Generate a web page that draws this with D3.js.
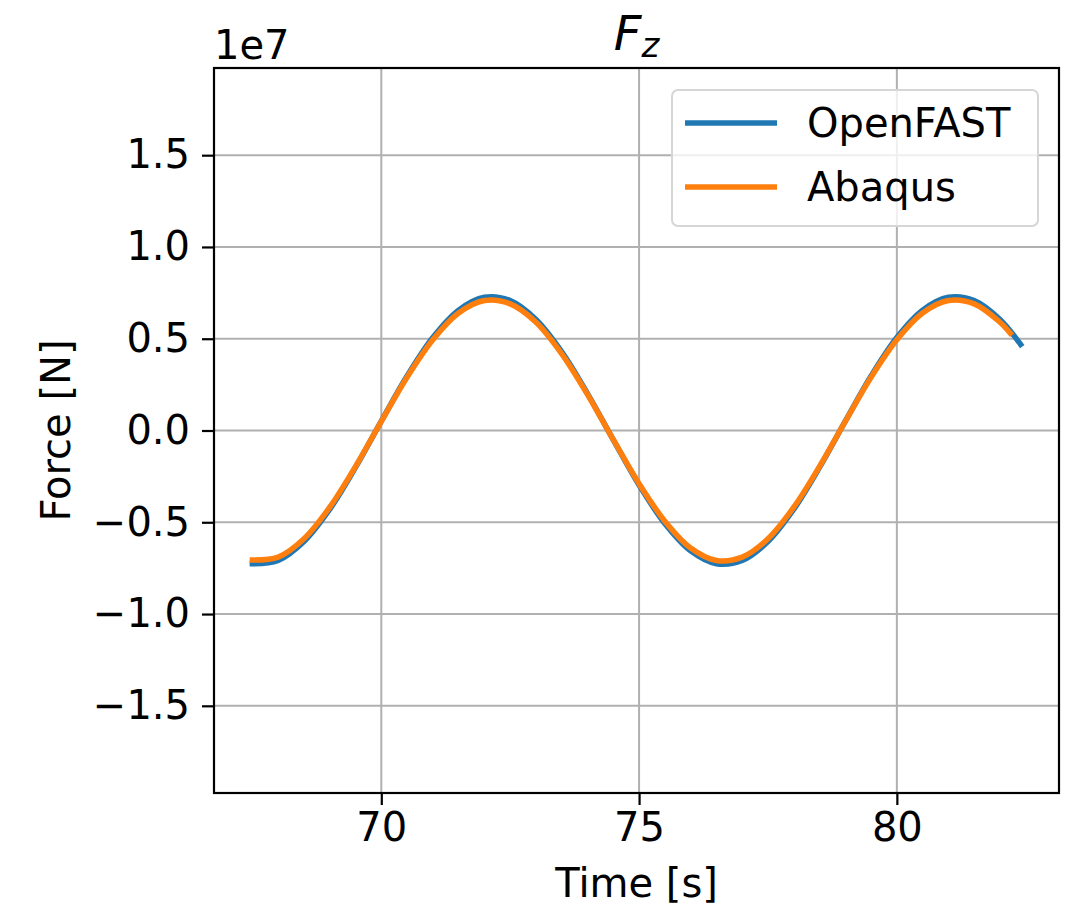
<!DOCTYPE html>
<html>
<head>
<meta charset="utf-8">
<script src="https://cdn.jsdelivr.net/npm/d3@7"></script>
<style>
    body { margin: 0; background: #fff; }
    text { font-family: 'DejaVu Sans', sans-serif; fill: #000; }
</style>
</head>
<body>
<div id="chart"></div>
<script>
// time [s] and force [N]
const timeOpenFAST = [67.5, 68.0, 68.5, 69.0, 69.5, 70.0, 70.5, 71.0, 71.5, 72.0, 72.5, 73.0, 73.5, 74.0, 74.5,
    75.0, 75.5, 76.0, 76.5, 77.0, 77.5, 78.0, 78.5, 79.0, 79.5, 80.0, 80.5, 81.0, 81.5, 82.0, 82.4];
const forceOpenFAST = [-0.726e7, -0.708e7, -0.605e7, -0.429e7, -0.201e7, 0.051e7, 0.297e7, 0.507e7, 0.656e7, 0.726e7,
    0.708e7, 0.605e7, 0.429e7, 0.201e7, -0.051e7, -0.297e7, -0.507e7, -0.656e7, -0.726e7, -0.708e7, -0.605e7,
    -0.429e7, -0.201e7, 0.051e7, 0.297e7, 0.507e7, 0.656e7, 0.726e7, 0.708e7, 0.605e7, 0.469e7];

const timeAbaqus = [67.5, 68.0, 68.5, 69.0, 69.5, 70.0, 70.5, 71.0, 71.5, 72.0, 72.5, 73.0, 73.5, 74.0, 74.5,
    75.0, 75.5, 76.0, 76.5, 77.0, 77.5, 78.0, 78.5, 79.0, 79.5, 80.0, 80.5, 81.0, 81.5, 82.0, 82.2];
const forceAbaqus = [-0.706e7, -0.690e7, -0.590e7, -0.418e7, -0.196e7, 0.050e7, 0.290e7, 0.494e7, 0.640e7, 0.708e7,
    0.690e7, 0.590e7, 0.418e7, 0.196e7, -0.050e7, -0.290e7, -0.494e7, -0.640e7, -0.708e7, -0.690e7, -0.590e7,
    -0.418e7, -0.196e7, 0.050e7, 0.290e7, 0.494e7, 0.640e7, 0.708e7, 0.690e7, 0.590e7, 0.530e7];

const xTicks = [70, 75, 80];
const yTicks = [-1.5e7, -1.0e7, -0.5e7, 0, 0.5e7, 1.0e7, 1.5e7];
const yLimit = 1.975e7;

const seriesNames = ['OpenFAST', 'Abaqus'];
const seriesColors = ['#1f77b4', '#ff7f0e'];

class LinePlot {
    constructor(_config, _data) {
        this.config = {
            parentElement: _config.parentElement,
            containerWidth: _config.containerWidth || 1072,
            containerHeight: _config.containerHeight || 910,
            margin: _config.margin || {top: 68, right: 13, bottom: 117, left: 214}
        };
        this.data = _data;
        this.initVis();
    }

    initVis() {
        let vis = this;

        vis.width = vis.config.containerWidth - vis.config.margin.left - vis.config.margin.right;
        vis.height = vis.config.containerHeight - vis.config.margin.top - vis.config.margin.bottom;

        vis.svg = d3.select(vis.config.parentElement)
            .append('svg')
            .attr('width', vis.config.containerWidth)
            .attr('height', vis.config.containerHeight);

        vis.chart = vis.svg.append('g')
            .attr('transform', `translate(${vis.config.margin.left},${vis.config.margin.top})`);

        vis.xScale = d3.scaleLinear().range([0, vis.width]);
        vis.yScale = d3.scaleLinear().range([vis.height, 0]);

        vis.gridG = vis.chart.append('g').attr('class', 'grid');
        vis.linesG = vis.chart.append('g').attr('class', 'lines');

        vis.xAxisG = vis.chart.append('g')
            .attr('class', 'axis x-axis')
            .attr('transform', `translate(0,${vis.height})`);
        vis.yAxisG = vis.chart.append('g')
            .attr('class', 'axis y-axis');

        vis.updateVis();
    }

    updateVis() {
        let vis = this;

        // matplotlib-style 5% margin on x, symmetric limits on y
        const xExt = d3.extent(vis.data.flatMap(s => s.time));
        const pad = (xExt[1] - xExt[0]) * 0.05;
        vis.xScale.domain([xExt[0] - pad, xExt[1] + pad]);
        vis.yScale.domain([-yLimit, yLimit]);

        vis.renderVis();
    }

    renderVis() {
        let vis = this;

        // grid
        vis.gridG.selectAll('.gx')
            .data(xTicks)
            .join('line')
            .attr('class', 'gx')
            .attr('x1', d => vis.xScale(d)).attr('x2', d => vis.xScale(d))
            .attr('y1', 0).attr('y2', vis.height)
            .attr('stroke', '#b0b0b0').attr('stroke-width', 2);

        vis.gridG.selectAll('.gy')
            .data(yTicks)
            .join('line')
            .attr('class', 'gy')
            .attr('x1', 0).attr('x2', vis.width)
            .attr('y1', d => vis.yScale(d)).attr('y2', d => vis.yScale(d))
            .attr('stroke', '#b0b0b0').attr('stroke-width', 2);

        const line = d3.line()
            .x(d => vis.xScale(d[0]))
            .y(d => vis.yScale(d[1]))
            .curve(d3.curveCatmullRom);

        vis.linesG.selectAll('.series')
            .data(vis.data)
            .join('path')
            .attr('class', 'series')
            .attr('d', d => line(d3.zip(d.time, d.force)))
            .attr('fill', 'none')
            .attr('stroke', d => d.color)
            .attr('stroke-width', 5.5)
            .attr('stroke-linecap', 'square')
            .attr('stroke-linejoin', 'round');

        // axes
        const xAxis = d3.axisBottom(vis.xScale)
            .tickValues(xTicks)
            .tickFormat(d3.format('d'))
            .tickSize(12)
            .tickPadding(8);
        const yAxis = d3.axisLeft(vis.yScale)
            .tickValues(yTicks)
            .tickFormat(d => d3.format('.1f')(d / 1e7))
            .tickSize(12)
            .tickPadding(12);

        vis.xAxisG.call(xAxis);
        vis.yAxisG.call(yAxis);

        [vis.xAxisG, vis.yAxisG].forEach(g => {
            g.select('.domain').remove();
            g.selectAll('.tick line').attr('stroke', '#000').attr('stroke-width', 2.2);
            g.selectAll('.tick text')
                .attr('font-size', 40)
                .attr('fill', '#000');
        });

        // frame
        vis.chart.append('rect')
            .attr('width', vis.width)
            .attr('height', vis.height)
            .attr('fill', 'none')
            .attr('stroke', '#000')
            .attr('stroke-width', 2.2);

        // labels
        vis.chart.append('text')
            .attr('x', vis.width / 2)
            .attr('y', vis.height + 104)
            .attr('text-anchor', 'middle')
            .attr('font-size', 40)
            .text('Time [s]');

        vis.chart.append('text')
            .attr('transform', `translate(${70 - vis.config.margin.left},${vis.height / 2}) rotate(-90)`)
            .attr('text-anchor', 'middle')
            .attr('font-size', 40)
            .text('Force [N]');

        vis.chart.append('text')
            .attr('x', 0)
            .attr('y', -9)
            .attr('font-size', 40)
            .text('1e7');

        const title = vis.chart.append('text')
            .attr('x', vis.width / 2)
            .attr('y', -18)
            .attr('text-anchor', 'middle')
            .attr('font-size', 48);
        title.append('tspan').attr('font-style', 'italic').text('F');
        title.append('tspan').attr('font-style', 'italic').attr('font-size', 34).attr('dy', 7).text('z');

        // legend
        const legend = vis.chart.append('g')
            .attr('transform', `translate(${vis.width - 387},22)`);
        legend.append('rect')
            .attr('width', 366).attr('height', 136)
            .attr('rx', 6)
            .attr('fill', '#fff').attr('fill-opacity', 0.8)
            .attr('stroke', '#d6d6d6').attr('stroke-width', 2);

        const items = legend.selectAll('.item')
            .data(vis.data)
            .join('g')
            .attr('class', 'item')
            .attr('transform', (d, i) => `translate(0,${33 + i * 64})`);
        items.append('line')
            .attr('x1', 13).attr('x2', 105)
            .attr('stroke', d => d.color)
            .attr('stroke-width', 5.5);
        items.append('text')
            .attr('x', 135)
            .attr('y', 14)
            .attr('font-size', 40)
            .text(d => d.name);
    }
}

const series = [
    {name: seriesNames[0], color: seriesColors[0], time: timeOpenFAST, force: forceOpenFAST},
    {name: seriesNames[1], color: seriesColors[1], time: timeAbaqus, force: forceAbaqus}
];

new LinePlot({parentElement: '#chart'}, series);
</script>
</body>
</html>
